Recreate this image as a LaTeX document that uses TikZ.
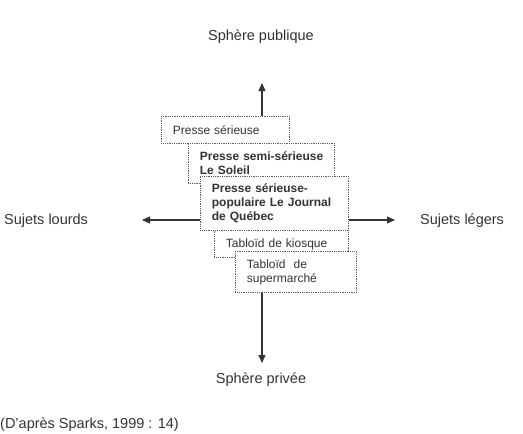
\documentclass[tikz,border=0pt]{standalone}
\usepackage{fontspec}
\setmainfont{Liberation Sans}
\usetikzlibrary{arrows.meta}
\definecolor{ink}{HTML}{333333}
\begin{document}
\begin{tikzpicture}[x=1pt,y=-1pt,
  every node/.style={text=ink},
  lbl/.style={font=\fontsize{14.5}{17}\selectfont, inner sep=0pt},
  pbox/.style={draw=ink!80, dash pattern=on 0.8pt off 1pt, line width=0.8pt, fill=white, anchor=north west,
    font=\fontsize{12}{14}\selectfont, align=left, inner xsep=11.5pt, inner ysep=0pt},
  axis/.style={draw=ink, line width=1.1pt, -{Triangle[length=8pt,width=7pt]}}]
\useasboundingbox (0,0) rectangle (523,434);
% boxes
\node[pbox, text width=105pt, minimum height=27pt] (b1) at (161,116) {Presse sérieuse};
\node[pbox, text width=123pt, minimum height=40pt] (b2) at (188,143) {\mbox{\bfseries Presse semi-sérieuse}\\\mbox{\bfseries Le Soleil}};
\node[pbox, text width=125pt, minimum height=54pt] (b3) at (200,176) {\mbox{\bfseries Presse sérieuse-}\\\mbox{\bfseries populaire Le Journal}\\\mbox{\bfseries de Québec}};
\node[pbox, text width=111pt, minimum height=27pt] (b4) at (214,230) {Tabloïd de kiosque};
\node[pbox, text width=98pt, minimum height=41pt] (b5) at (235,251) {Tabloïd\ \ de\\supermarché};
% axis end points
\coordinate (top) at (262,83);
\coordinate (bot) at (262,363);
\coordinate (lft) at (142,220);
\coordinate (rgt) at (395,220);
\draw[axis] (b1.north -| top) -- (top);
\draw[axis] (b5.south -| bot) -- (bot);
\draw[axis] (b3.west |- lft) -- (lft);
\draw[axis] (b3.east |- rgt) -- (rgt);
% labels
\node[lbl] (pub) at (261,37) {Sphère publique};
\node[lbl] (priv) at (261,380) {Sphère privée};
\node[lbl, anchor=west] (lourds) at (4,221) {Sujets lourds};
\node[lbl, anchor=west] (legers) at (420,221) {Sujets légers};
\node[lbl, anchor=west] (src) at (0,425) {(D'après Sparks, 1999 : 14)};
\end{tikzpicture}
\end{document}
